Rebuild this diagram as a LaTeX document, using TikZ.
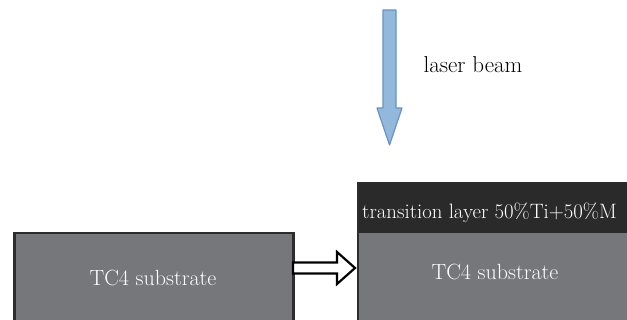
\documentclass[tikz,border=0pt]{standalone}
\usetikzlibrary{calc}
\definecolor{beamfill}{RGB}{146,184,220}
\definecolor{beamedge}{RGB}{104,148,196}
\definecolor{subgray}{RGB}{118,119,123}
\definecolor{layerdark}{RGB}{42,42,42}
\definecolor{edgedark}{RGB}{45,45,45}
\tikzset{
  lbl/.style={font=\fontsize{22}{26}\selectfont, inner sep=0pt},
  boxlbl/.style={lbl, text=white},
  subbox/.style={fill=subgray, inner sep=0pt, anchor=north west},
}
\begin{document}
\begin{tikzpicture}[x=1pt,y=-1pt]
\useasboundingbox (0,0) rectangle (627,320);
% laser beam arrow
\draw[beamedge, fill=beamfill, line width=1.2pt, line join=round]
  (383,10) -- (396,10) -- (396,108) -- (402,108) -- (389.5,145) -- (377,108) -- (383,108) -- cycle;
\node[lbl, font=\fontsize{23}{27}\selectfont] (laser) at (473,65) {laser beam};
% left substrate
\node[subbox, draw=edgedark, line width=2.5pt, minimum width=279pt, minimum height=100pt] (left) at (13,232) {};
\node[boxlbl] (lefttxt) at (153,278) {TC4 substrate};
% right block
\node[fill=layerdark, inner sep=0pt, anchor=north west, minimum width=280pt, minimum height=51pt] (layer) at (358,182) {};
\node[subbox, minimum width=280pt, minimum height=100pt] (right) at (358,233) {};
\draw[edgedark, line width=1.5pt] (layer.north west) -- (right.south west);
\node[boxlbl, anchor=west, font=\fontsize{20.8}{25}\selectfont] (layertxt) at (362,213) {transition layer 50\%Ti+50\%M};
\node[boxlbl] (righttxt) at (495,272) {TC4 substrate};
% hollow arrow
\coordinate (hstart) at (293,268);
\coordinate (htip) at (355,268);
\draw[fill=white, line width=2.2pt, line join=miter]
  ($(hstart)+(0,-5.5)$) -- ($(htip)+(-18,-5.5)$) -- ($(htip)+(-18,-16)$) -- (htip)
  -- ($(htip)+(-18,16)$) -- ($(htip)+(-18,5.5)$) -- ($(hstart)+(0,5.5)$) -- cycle;
\end{tikzpicture}
\end{document}
